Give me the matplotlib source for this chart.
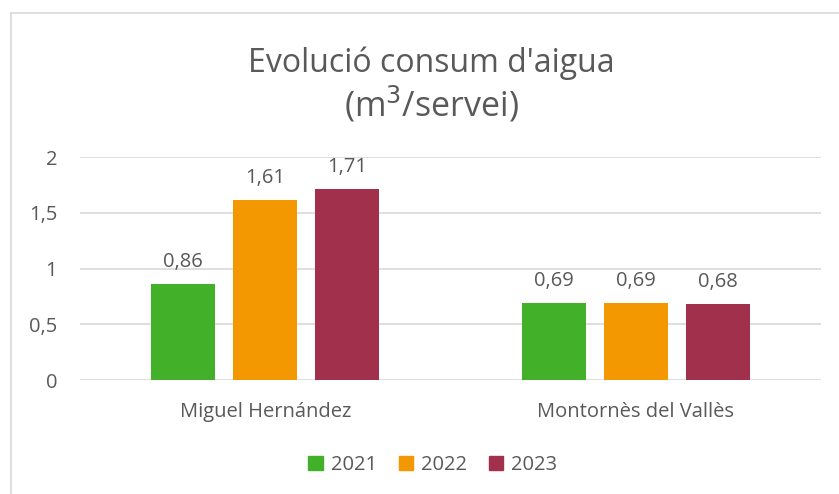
import matplotlib

matplotlib.use("Agg")
import matplotlib.pyplot as plt
from matplotlib.lines import Line2D
import numpy as np

# data
categories = ["Miguel Hernández", "Montornès del Vallès"]
years = ["2021", "2022", "2023"]
values_2021 = [0.86, 0.69]
values_2022 = [1.61, 0.69]
values_2023 = [1.71, 0.68]
colors = ["#43B02A", "#F39800", "#A0304B"]

TEXT = "#595959"
W, H = 839, 494

plt.rcParams["font.family"] = ["Open Sans", "DejaVu Sans"]

fig = plt.figure(figsize=(W / 100, H / 100), dpi=100)
# plot area: x 80..821, y 157..380 (pixels)
ax = fig.add_axes([80 / W, 1 - 380 / H, (821 - 80) / W, (380 - 157) / H])

x = np.arange(len(categories))
width = 0.173
step = 0.2216
series = [values_2021, values_2022, values_2023]
for i, (vals, yr, col) in enumerate(zip(series, years, colors)):
    bars = ax.bar(x + (i - 1) * step, vals, width, color=col, label=yr, zorder=3)
    ax.bar_label(bars, labels=[f"{v:.2f}".replace(".", ",") for v in vals],
                 padding=9, fontsize=14.5, color=TEXT)

ax.set_xlim(-0.5, 1.5)
ax.set_ylim(0, 2)
ax.set_yticks([0, 0.5, 1, 1.5, 2])
ax.set_yticklabels(["0", "0,5", "1", "1,5", "2"])
ax.set_xticks(x)
ax.set_xticklabels(categories)
ax.tick_params(axis="both", length=0, colors=TEXT, labelsize=14.5)
ax.tick_params(axis="y", pad=16.5)
ax.tick_params(axis="x", pad=16)
ax.grid(axis="y", color="#D9D9D9", linewidth=1.2, zorder=0)
for s in ax.spines.values():
    s.set_visible(False)

fig.text(431 / W, 1 - 63 / H, "Evolució consum d'aigua", ha="center", va="center",
         fontsize=23, color=TEXT)
fig.text(431 / W, 1 - 104 / H, r"(m$^3$/servei)", ha="center", va="center",
         fontsize=24.5, color=TEXT)

handles = [plt.Rectangle((0, 0), 1, 1, color=c) for c in colors]
fig.legend(handles, years, loc="center", bbox_to_anchor=(433 / W, 1 - 465 / H),
           ncol=3, frameon=False, fontsize=14.5, labelcolor=TEXT,
           handlelength=0.7, handleheight=0.7, handletextpad=0.4, columnspacing=1.1)

# chart border (left and top edges visible)
fig.add_artist(Line2D([10.5 / W, 10.5 / W], [0, 1 - 13 / H], color="#D9D9D9", lw=1.2))
fig.add_artist(Line2D([10.5 / W, 1], [1 - 13 / H, 1 - 13 / H], color="#D9D9D9", lw=1.2))

fig.savefig("out.png", dpi=100)
